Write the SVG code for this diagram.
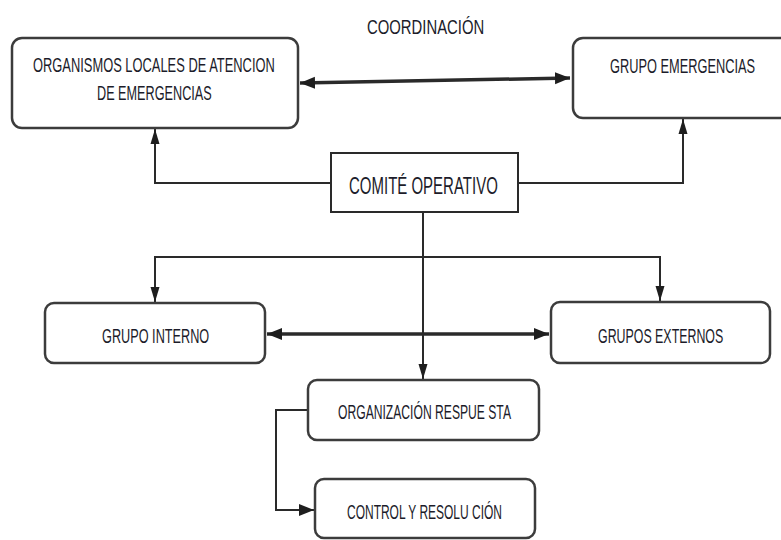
<svg xmlns="http://www.w3.org/2000/svg" width="781" height="540" viewBox="0 0 781 540">
<defs>
<style>
.box{fill:#fff;stroke:#3c3c3c;stroke-width:2.5}
.sq{fill:#fff;stroke:#2a2a2a;stroke-width:2}
.t{font-family:"Liberation Sans",Arial,sans-serif;font-size:21px;fill:#1c1c2a}
.big{font-size:24px}
.c{fill:none;stroke:#2a2a2a;stroke-width:2}
.thick{stroke-width:3.5}
</style>
<marker id="ah" markerUnits="userSpaceOnUse" markerWidth="16" markerHeight="10" refX="15" refY="5" orient="auto-start-reverse">
<path d="M0,0.5 L15,5 L0,9.5 z" fill="#1e1e1e"/>
</marker>
<marker id="ahb" markerUnits="userSpaceOnUse" markerWidth="16" markerHeight="14" refX="15" refY="7" orient="auto-start-reverse">
<path d="M0,1 L15,7 L0,13 z" fill="#1e1e1e"/>
</marker>
</defs>
<rect width="781" height="540" fill="#fff"/>
<text class="t" transform="translate(367,34) scale(0.62,1)" font-size="22" textLength="189" lengthAdjust="spacingAndGlyphs">COORDINACIÓN</text>
<g id="connectors">
<path class="c thick" d="M300,83 L570,78" marker-start="url(#ahb)" marker-end="url(#ahb)"/>
<path class="c" d="M331,183 H155 V129" marker-end="url(#ah)"/>
<path class="c" d="M518,183 H683 V119" marker-end="url(#ah)"/>
<path class="c" d="M423,212 V379" marker-end="url(#ah)"/>
<path class="c" d="M423,257 H155 V302" marker-end="url(#ah)"/>
<path class="c" d="M423,257 H660 V301" marker-end="url(#ah)"/>
<path class="c thick" d="M267,334 L549,334" marker-start="url(#ahb)" marker-end="url(#ahb)"/>
<path class="c" d="M308,410 H276 V510 H314" marker-end="url(#ahb)"/>
</g>
<g id="organismos">
<rect class="box" x="12" y="38" width="286" height="90" rx="10"/>
<text class="t" transform="translate(33,72) scale(0.62,1)" textLength="390" lengthAdjust="spacingAndGlyphs">ORGANISMOS LOCALES DE ATENCION</text>
<text class="t" transform="translate(97,100) scale(0.62,1)" textLength="185" lengthAdjust="spacingAndGlyphs">DE EMERGENCIAS</text>
</g>
<g id="grupo-emergencias">
<rect class="box" x="573" y="38" width="230" height="80" rx="10"/>
<text class="t" transform="translate(610,73) scale(0.62,1)" textLength="234" lengthAdjust="spacingAndGlyphs">GRUPO EMERGENCIAS</text>
</g>
<g id="comite">
<rect class="sq" x="331" y="153" width="187" height="59"/>
<text class="t big" transform="translate(349,194) scale(0.62,1)" textLength="240" lengthAdjust="spacingAndGlyphs">COMITÉ OPERATIVO</text>
</g>
<g id="grupo-interno">
<rect class="box" x="45" y="303" width="220" height="60" rx="9"/>
<text class="t" transform="translate(102,343) scale(0.62,1)" textLength="173" lengthAdjust="spacingAndGlyphs">GRUPO INTERNO</text>
</g>
<g id="grupos-externos">
<rect class="box" x="551" y="302" width="219" height="61" rx="9"/>
<text class="t" transform="translate(598,343) scale(0.62,1)" textLength="202" lengthAdjust="spacingAndGlyphs">GRUPOS EXTERNOS</text>
</g>
<g id="organizacion">
<rect class="box" x="308" y="380" width="231" height="60" rx="9"/>
<text class="t" transform="translate(338,419) scale(0.62,1)" textLength="279" lengthAdjust="spacingAndGlyphs">ORGANIZACIÓN RESPUE STA</text>
</g>
<g id="control">
<rect class="box" x="315" y="479" width="220" height="59" rx="9"/>
<text class="t" transform="translate(347,519) scale(0.62,1)" textLength="250" lengthAdjust="spacingAndGlyphs">CONTROL Y RESOLU CIÓN</text>
</g>
</svg>
